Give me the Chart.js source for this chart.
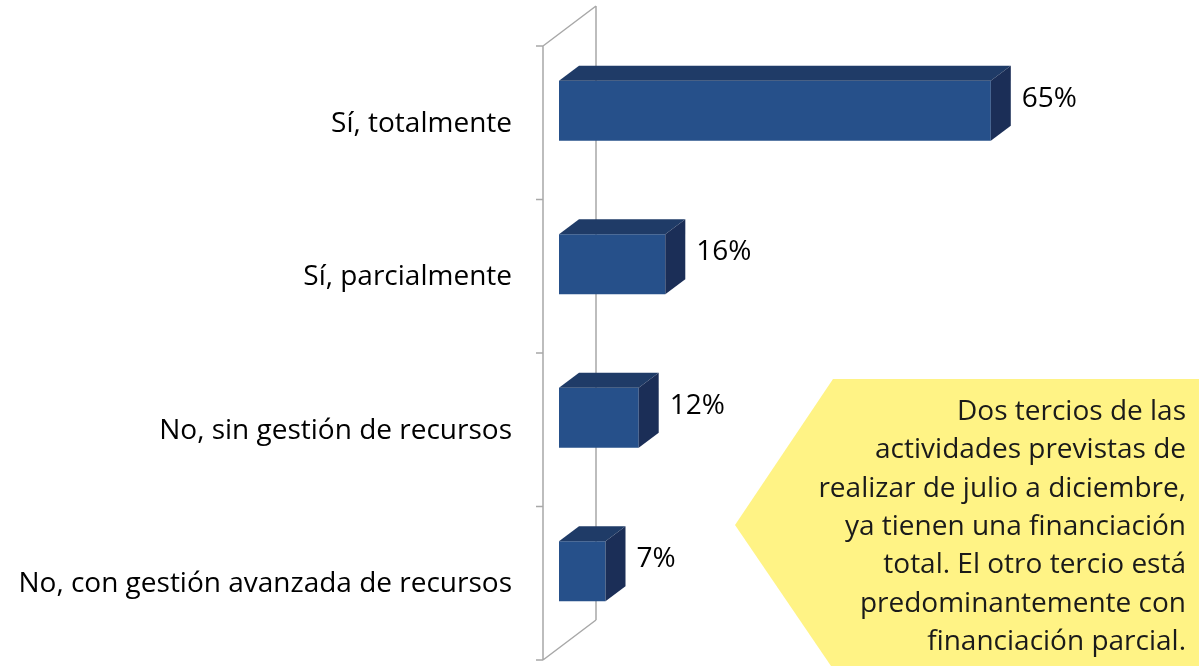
<!DOCTYPE html>
<html>
<head>
<meta charset="utf-8">
<script src="https://cdn.jsdelivr.net/npm/chart.js@4/dist/chart.umd.min.js"></script>
<style>
  html, body { margin: 0; padding: 0; background: #ffffff; }
  #wrap { width: 1199px; height: 666px; }
</style>
</head>
<body>
<div id="wrap"><canvas id="chart" width="1199" height="666"></canvas></div>
<script>
    "use strict";

    // chart data
    var categories = [
        'Sí, totalmente',
        'Sí, parcialmente',
        'No, sin gestión de recursos',
        'No, con gestión avanzada de recursos'
    ];
    var values = [65, 16, 12, 7];
    var valueLabels = ['65%', '16%', '12%', '7%'];

    // note in the yellow arrow
    var noteLines = [
        'Dos tercios de las',
        'actividades previstas de',
        'realizar de julio a diciembre,',
        'ya tienen una financiación',
        'total. El otro tercio está',
        'predominantemente con',
        'financiación parcial.'
    ];

    var FONT = '"Open Sans", Lato, sans-serif';
    var FONT_SIZE = 28;

    // fake 3d: bar depth and the wall offsets around it
    var DEPTH_X = 20, DEPTH_Y = -15;
    var FRONT_X = -16, FRONT_Y = 12;
    var BACK_X = 37, BACK_Y = -28;

    var FACE = '#26508a';
    var TOP = '#1f3b67';
    var SIDE = '#1b2e57';
    var FRAME = '#a8a8a8';

    function poly(ctx, pts, fill) {
        ctx.beginPath();
        ctx.moveTo(pts[0][0], pts[0][1]);
        for (let i = 1; i < pts.length; i++) {
            ctx.lineTo(pts[i][0], pts[i][1]);
        }
        ctx.closePath();
        ctx.fillStyle = fill;
        ctx.fill();
    }

    // the wall lines behind the bars
    var framePlugin = {
        id: 'frame3d',
        beforeDatasetsDraw(chart) {
            let ctx = chart.ctx;
            let area = chart.chartArea;
            let yScale = chart.scales.y;
            let x0 = area.left;

            ctx.save();
            ctx.strokeStyle = FRAME;
            ctx.lineWidth = 1.5;
            ctx.beginPath();
            // front vertical
            ctx.moveTo(x0 + FRONT_X, area.top + FRONT_Y);
            ctx.lineTo(x0 + FRONT_X, area.bottom + FRONT_Y);
            // back vertical
            ctx.moveTo(x0 + BACK_X, area.top + BACK_Y);
            ctx.lineTo(x0 + BACK_X, area.bottom + BACK_Y);
            // top and bottom diagonals
            ctx.moveTo(x0 + FRONT_X, area.top + FRONT_Y);
            ctx.lineTo(x0 + BACK_X, area.top + BACK_Y);
            ctx.moveTo(x0 + FRONT_X, area.bottom + FRONT_Y);
            ctx.lineTo(x0 + BACK_X, area.bottom + BACK_Y);

            // tick marks on category boundaries
            let band = (area.bottom - area.top) / categories.length;
            for (let i = 0; i <= categories.length; i++) {
                let y = yScale.getPixelForValue(0) - band / 2 + i * band + FRONT_Y;
                ctx.moveTo(x0 + FRONT_X - 7, y);
                ctx.lineTo(x0 + FRONT_X, y);
            }
            ctx.stroke();
            ctx.restore();
        }
    };

    // top and side faces plus value labels
    var barsPlugin = {
        id: 'bars3d',
        afterDatasetsDraw(chart) {
            let ctx = chart.ctx;
            let meta = chart.getDatasetMeta(0);
            ctx.save();
            meta.data.forEach((bar, i) => {
                let p = bar.getProps(['x', 'y', 'base', 'height'], true);
                let x0 = p.base, x1 = p.x;
                let top = p.y - p.height / 2;
                let bottom = p.y + p.height / 2;

                poly(ctx, [[x0, top], [x0 + DEPTH_X, top + DEPTH_Y],
                    [x1 + DEPTH_X, top + DEPTH_Y], [x1, top]], TOP);
                poly(ctx, [[x1, top], [x1 + DEPTH_X, top + DEPTH_Y],
                    [x1 + DEPTH_X, bottom + DEPTH_Y], [x1, bottom]], SIDE);

                ctx.fillStyle = '#000000';
                ctx.font = FONT_SIZE + 'px ' + FONT;
                ctx.textAlign = 'left';
                ctx.textBaseline = 'middle';
                ctx.fillText(valueLabels[i], x1 + DEPTH_X + 11, p.y - 12);
            });
            ctx.restore();
        }
    };

    // yellow arrow with the note
    var notePlugin = {
        id: 'note',
        afterDraw(chart) {
            let ctx = chart.ctx;
            ctx.save();
            poly(ctx, [[833, 379], [1199, 379], [1199, 666], [831, 666], [735, 525]], '#fff385');
            ctx.fillStyle = '#1a1a1a';
            ctx.font = FONT_SIZE + 'px ' + FONT;
            ctx.textAlign = 'right';
            ctx.textBaseline = 'alphabetic';
            noteLines.forEach((line, i) => {
                ctx.fillText(line, 1186, 420 + i * 38.3);
            });
            ctx.restore();
        }
    };

    var ctx = document.getElementById('chart').getContext('2d');
    var chart = new Chart(ctx, {
        type: 'bar',
        data: {
            labels: categories,
            datasets: [{
                data: values,
                backgroundColor: FACE,
                borderWidth: 0,
                barPercentage: 0.39,
                categoryPercentage: 1
            }]
        },
        options: {
            indexAxis: 'y',
            responsive: false,
            animation: false,
            layout: {
                padding: { left: 0, top: 34, bottom: 18, right: 175 }
            },
            plugins: {
                legend: { display: false },
                tooltip: { enabled: false },
                title: { display: false }
            },
            scales: {
                x: {
                    display: false,
                    min: 0,
                    max: 70
                },
                y: {
                    grid: { display: false, drawTicks: false },
                    border: { display: false },
                    ticks: {
                        color: '#000000',
                        padding: 47,
                        labelOffset: 13,
                        font: { family: FONT, size: FONT_SIZE }
                    },
                    afterFit(scale) {
                        // fixed width, and no extra room above/below for labels
                        scale.width = 559;
                        scale.paddingTop = 0;
                        scale.paddingBottom = 0;
                    }
                }
            }
        },
        plugins: [framePlugin, barsPlugin, notePlugin]
    });
</script>
</body>
</html>
